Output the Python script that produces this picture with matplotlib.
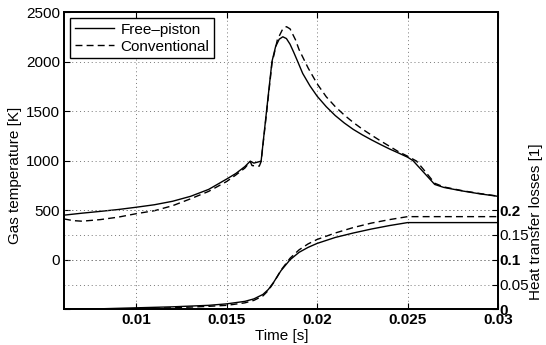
import matplotlib
matplotlib.use("Agg")
import matplotlib.pyplot as plt
import numpy as np

plt.rcParams['font.family'] = ['Liberation Sans', 'DejaVu Sans']

# Gas temperature [K]
t_fp = [0.006, 0.007, 0.008, 0.009, 0.010, 0.011, 0.012, 0.013, 0.014, 0.015, 0.0155, 0.016,
        0.0163, 0.0165, 0.0167, 0.0169, 0.0172, 0.0175, 0.0177, 0.0179, 0.0181, 0.0183, 0.0185,
        0.0187, 0.0189, 0.0192, 0.0196, 0.020, 0.0205, 0.021, 0.0215, 0.022, 0.0225, 0.023,
        0.0235, 0.024, 0.0245, 0.025, 0.0253, 0.0258, 0.0265, 0.027, 0.028, 0.029, 0.030]
T_fp = [450, 470, 488, 507, 530, 555, 590, 640, 710, 815, 870, 940,
        995, 975, 985, 995, 1500, 2000, 2150, 2225, 2250, 2232, 2175,
        2095, 2010, 1880, 1755, 1650, 1545, 1455, 1380, 1315, 1260, 1210,
        1163, 1118, 1077, 1035, 1000, 900, 760, 730, 695, 665, 640]

t_cv = [0.006, 0.0065, 0.007, 0.008, 0.009, 0.010, 0.011, 0.012, 0.013, 0.014, 0.015, 0.0155,
        0.016, 0.0163, 0.0164, 0.0168, 0.0169, 0.0172, 0.0175, 0.0178, 0.0181, 0.0183, 0.0185,
        0.0188, 0.019, 0.0195, 0.020, 0.0205, 0.021, 0.0215, 0.022, 0.0225, 0.023, 0.0235,
        0.024, 0.0245, 0.025, 0.0255, 0.026, 0.0265, 0.027, 0.028, 0.029, 0.030]
T_cv = [412, 395, 389, 405, 430, 465, 495, 545, 615, 690, 790, 855,
        925, 990, 950, 945, 990, 1480, 1980, 2220, 2330, 2352, 2330,
        2220, 2120, 1935, 1775, 1645, 1545, 1460, 1385, 1318, 1258, 1200,
        1145, 1090, 1045, 995, 885, 772, 735, 698, 668, 642]

# Heat transfer losses [1]
q_t = [0.006, 0.008, 0.010, 0.012, 0.014, 0.015, 0.016, 0.0165, 0.017, 0.0173, 0.0176, 0.018,
       0.0185, 0.019, 0.0195, 0.020, 0.021, 0.022, 0.023, 0.024, 0.025, 0.030]
Q_fp = [0.0, 0.001, 0.003, 0.005, 0.008, 0.011, 0.016, 0.021, 0.030, 0.040, 0.055, 0.078,
        0.100, 0.115, 0.125, 0.133, 0.145, 0.154, 0.162, 0.169, 0.175, 0.175]
Q_cv = [0.0, 0.0, 0.001, 0.003, 0.006, 0.008, 0.013, 0.018, 0.027, 0.038, 0.054, 0.079,
        0.103, 0.120, 0.132, 0.141, 0.154, 0.165, 0.174, 0.181, 0.187, 0.187]

x_ticks = [0.01, 0.015, 0.02, 0.025, 0.03]
x_labels = ['0.01', '0.015', '0.02', '0.025', '0.03']
yl_ticks = [0, 500, 1000, 1500, 2000, 2500]
yr_ticks = [0, 0.05, 0.1, 0.15, 0.2]
yr_labels = ['0', '0.05', '0.1', '0.15', '0.2']

fig = plt.figure(figsize=(5.46, 3.45), dpi=100)
ax = fig.add_axes([64/546, 1-309.3/345, (498-64)/546, (309.3-12)/345])
ax2 = ax.twinx()

fs = 11
lw = 1.0
ax.plot(t_fp, T_fp, '-', color='black', lw=lw, label='Free\u2013piston')
ax.plot(t_cv, T_cv, '--', color='black', lw=lw, dashes=(5, 3), label='Conventional')
ax2.plot(q_t, Q_fp, '-', color='black', lw=lw)
ax2.plot(q_t, Q_cv, '--', color='black', lw=lw, dashes=(5, 3))

ax.set_xlim(0.006, 0.03)
ax.set_ylim(-500, 2500)
ax2.set_ylim(0, 0.6)

ax.set_xticks(x_ticks)
ax.set_xticklabels(x_labels, fontsize=fs, fontweight='bold')
ax.set_yticks([-500] + yl_ticks)
ax.set_yticklabels([''] + [str(v) for v in yl_ticks], fontsize=fs)
ax2.set_yticks(yr_ticks)
ax2.set_yticklabels(yr_labels, fontsize=fs)
for lab in ax2.get_yticklabels():
    if lab.get_text() in ('0', '0.1', '0.2'):
        lab.set_fontweight('bold')

ax.grid(True, linestyle=(0, (1, 3)), color='#777777', lw=0.7)
ax2.grid(True, axis='y', linestyle=(0, (1, 3)), color='#777777', lw=0.7)

ax.tick_params(direction='in', length=4, width=0.8, top=True, right=False, pad=3)
ax2.tick_params(direction='in', length=4, width=0.8, pad=1)
for a in (ax, ax2):
    for s in a.spines.values():
        s.set_linewidth(1.3)

leg = ax.legend(loc='upper left', fontsize=fs, frameon=True, fancybox=False,
                borderaxespad=0.4, handlelength=2.6, handletextpad=0.4,
                borderpad=0.3, labelspacing=0.2)
leg.get_frame().set_edgecolor('black')
leg.get_frame().set_linewidth(1.0)
leg.get_frame().set_alpha(1)

fig.text(15/546, 1-175/345, 'Gas temperature [K]', rotation=90, ha='center', va='center', fontsize=fs)
fig.text(536/546, 1-222/345, 'Heat transfer losses [1]', rotation=90, ha='center', va='center', fontsize=fs)
fig.text(282/546, 1-336/345, 'Time [s]', ha='center', va='center', fontsize=fs)

fig.savefig('out.png', dpi=100)
